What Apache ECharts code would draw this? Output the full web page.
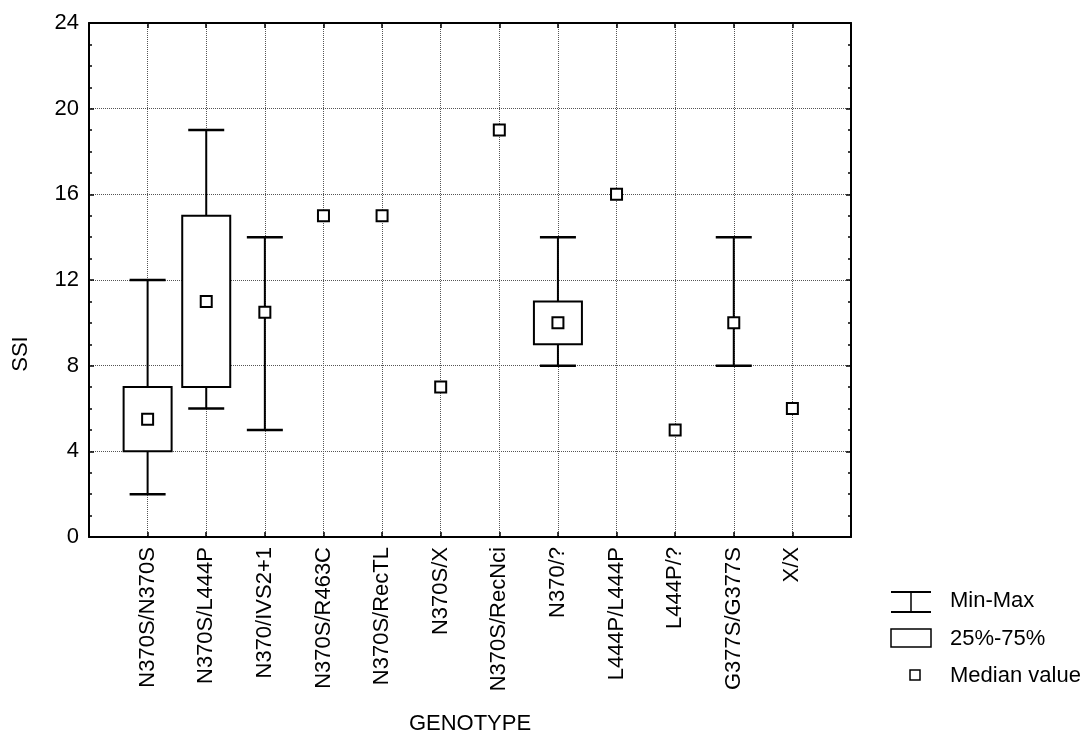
<!DOCTYPE html>
<html>
<head>
<meta charset="utf-8">
<title>SSI by genotype</title>
<script src="https://cdn.jsdelivr.net/npm/echarts@6/dist/echarts.min.js"></script>
<style>
  html, body { margin: 0; padding: 0; background: #fff; }
  #chart { width: 1091px; height: 734px; }
</style>
</head>
<body>
<div id="chart"></div>
<script>
// genotype groups along the x axis
const categories = [
  'N370S/N370S', 'N370S/L444P', 'N370/IVS2+1', 'N370S/R463C', 'N370S/RecTL', 'N370S/X',
  'N370S/RecNci', 'N370/?', 'L444P/L444P', 'L444P/?', 'G377S/G377S', 'X/X'
]
// SSI per group (null = not drawn)
const minVals = [2, 6, 5, null, null, null, null, 8, null, null, 8, null]
const maxVals = [12, 19, 14, null, null, null, null, 14, null, null, 14, null]
const q1Vals = [4, 7, null, null, null, null, null, 9, null, null, null, null]
const q3Vals = [7, 15, null, null, null, null, null, 11, null, null, null, null]
const medians = [5.5, 11, 10.5, 15, 15, 7, 19, 10, 16, 5, 10, 6]
const yTicks = [0, 4, 8, 12, 16, 20, 24]

const FONT = '"Liberation Sans", Arial, sans-serif'
const BLACK = '#000'

// empty slots at both ends so the groups sit one step in from the frame
const xData = [''].concat(categories, [''])

const whiskerData = []
const boxData = []
const medianData = []
categories.forEach((c, i) => {
  if (minVals[i] != null && maxVals[i] != null) whiskerData.push([i + 1, minVals[i], maxVals[i]])
  if (q1Vals[i] != null && q3Vals[i] != null) boxData.push([i + 1, q1Vals[i], q3Vals[i]])
  medianData.push([i + 1, medians[i]])
})

const renderWhisker = (params, api) => {
  const x = api.value(0)
  const lo = api.coord([x, api.value(1)])
  const hi = api.coord([x, api.value(2)])
  const half = 18
  const style = { stroke: BLACK, lineWidth: 2 }
  return {
    type: 'group',
    children: [
      { type: 'line', shape: { x1: lo[0], y1: lo[1], x2: hi[0], y2: hi[1] }, style },
      { type: 'line', shape: { x1: lo[0] - half, y1: lo[1], x2: lo[0] + half, y2: lo[1] }, style: { stroke: BLACK, lineWidth: 2.5 } },
      { type: 'line', shape: { x1: hi[0] - half, y1: hi[1], x2: hi[0] + half, y2: hi[1] }, style: { stroke: BLACK, lineWidth: 2.5 } }
    ]
  }
}

const renderBox = (params, api) => {
  const x = api.value(0)
  const lo = api.coord([x, api.value(1)])
  const hi = api.coord([x, api.value(2)])
  const w = 48
  return {
    type: 'rect',
    shape: { x: lo[0] - w / 2, y: hi[1], width: w, height: lo[1] - hi[1] },
    style: { fill: '#fff', stroke: BLACK, lineWidth: 2 }
  }
}

const gridLine = { show: true, lineStyle: { type: 'dotted', color: '#555', width: 1 } }
const tickStyle = { show: true, inside: true, length: 5, interval: 0, lineStyle: { color: BLACK, width: 1.5 } }
const minorStyle = { show: true, splitNumber: 4, length: 3, lineStyle: { color: BLACK, width: 1.5 } }

const chart = echarts.init(document.getElementById('chart'))

chart.setOption({
  animation: false,
  backgroundColor: '#fff',
  grid: { left: 89, right: 240, top: 23, bottom: 197, containLabel: false, outerBoundsMode: 'none' },
  xAxis: [
    {
      type: 'category',
      data: xData,
      boundaryGap: false,
      position: 'bottom',
      axisLine: { show: true, onZero: false, lineStyle: { color: BLACK, width: 2 } },
      axisTick: tickStyle,
      axisLabel: { rotate: 90, interval: 0, margin: 10, fontSize: 22, color: BLACK, fontFamily: FONT },
      splitLine: Object.assign({ interval: 0 }, gridLine),
      name: 'GENOTYPE',
      nameLocation: 'middle',
      nameGap: 176,
      nameTextStyle: { fontSize: 22, color: BLACK, fontFamily: FONT }
    },
    {
      type: 'category',
      data: xData,
      boundaryGap: false,
      position: 'top',
      axisLine: { show: true, onZero: false, lineStyle: { color: BLACK, width: 2 } },
      axisTick: tickStyle,
      axisLabel: { show: false },
      splitLine: { show: false }
    }
  ],
  yAxis: [
    {
      type: 'value',
      min: yTicks[0],
      max: yTicks[yTicks.length - 1],
      interval: 4,
      axisLine: { show: true, onZero: false, lineStyle: { color: BLACK, width: 2 } },
      axisTick: tickStyle,
      minorTick: minorStyle,
      axisLabel: { margin: 10, fontSize: 22, color: BLACK, fontFamily: FONT },
      splitLine: gridLine
    },
    {
      type: 'value',
      position: 'right',
      min: yTicks[0],
      max: yTicks[yTicks.length - 1],
      interval: 4,
      axisLine: { show: true, onZero: false, lineStyle: { color: BLACK, width: 2 } },
      axisTick: tickStyle,
      minorTick: minorStyle,
      axisLabel: { show: false },
      splitLine: { show: false }
    }
  ],
  series: [
    {
      name: 'Min-Max',
      type: 'custom',
      xAxisIndex: 0,
      yAxisIndex: 0,
      z: 3,
      renderItem: renderWhisker,
      encode: { x: 0, y: [1, 2] },
      data: whiskerData
    },
    {
      name: '25%-75%',
      type: 'custom',
      xAxisIndex: 0,
      yAxisIndex: 0,
      z: 4,
      renderItem: renderBox,
      encode: { x: 0, y: [1, 2] },
      data: boxData
    },
    {
      name: 'Median value',
      type: 'scatter',
      xAxisIndex: 0,
      yAxisIndex: 0,
      z: 5,
      symbol: 'rect',
      symbolSize: 11,
      itemStyle: { color: '#fff', borderColor: BLACK, borderWidth: 2, opacity: 1 },
      data: medianData
    }
  ],
  graphic: [
    {
      type: 'text',
      x: 21,
      y: 354,
      rotation: Math.PI / 2,
      style: { text: 'SSI', font: '22px ' + FONT, fill: BLACK, align: 'center', verticalAlign: 'middle' }
    },
    // legend
    {
      type: 'group',
      children: [
        { type: 'line', shape: { x1: 891, y1: 592, x2: 931, y2: 592 }, style: { stroke: BLACK, lineWidth: 2 } },
        { type: 'line', shape: { x1: 891, y1: 612, x2: 931, y2: 612 }, style: { stroke: BLACK, lineWidth: 2 } },
        { type: 'line', shape: { x1: 911, y1: 592, x2: 911, y2: 612 }, style: { stroke: BLACK, lineWidth: 1.5 } },
        { type: 'text', x: 950, y: 601, style: { text: 'Min-Max', font: '22px ' + FONT, fill: BLACK, verticalAlign: 'middle' } },
        { type: 'rect', shape: { x: 891, y: 629, width: 40, height: 18 }, style: { fill: '#fff', stroke: BLACK, lineWidth: 1.5 } },
        { type: 'text', x: 950, y: 639, style: { text: '25%-75%', font: '22px ' + FONT, fill: BLACK, verticalAlign: 'middle' } },
        { type: 'rect', shape: { x: 910, y: 670, width: 10, height: 10 }, style: { fill: '#fff', stroke: BLACK, lineWidth: 1.5 } },
        { type: 'text', x: 950, y: 676, style: { text: 'Median value', font: '22px ' + FONT, fill: BLACK, verticalAlign: 'middle' } }
      ]
    }
  ]
})

window.addEventListener('resize', () => chart.resize())
</script>
</body>
</html>
